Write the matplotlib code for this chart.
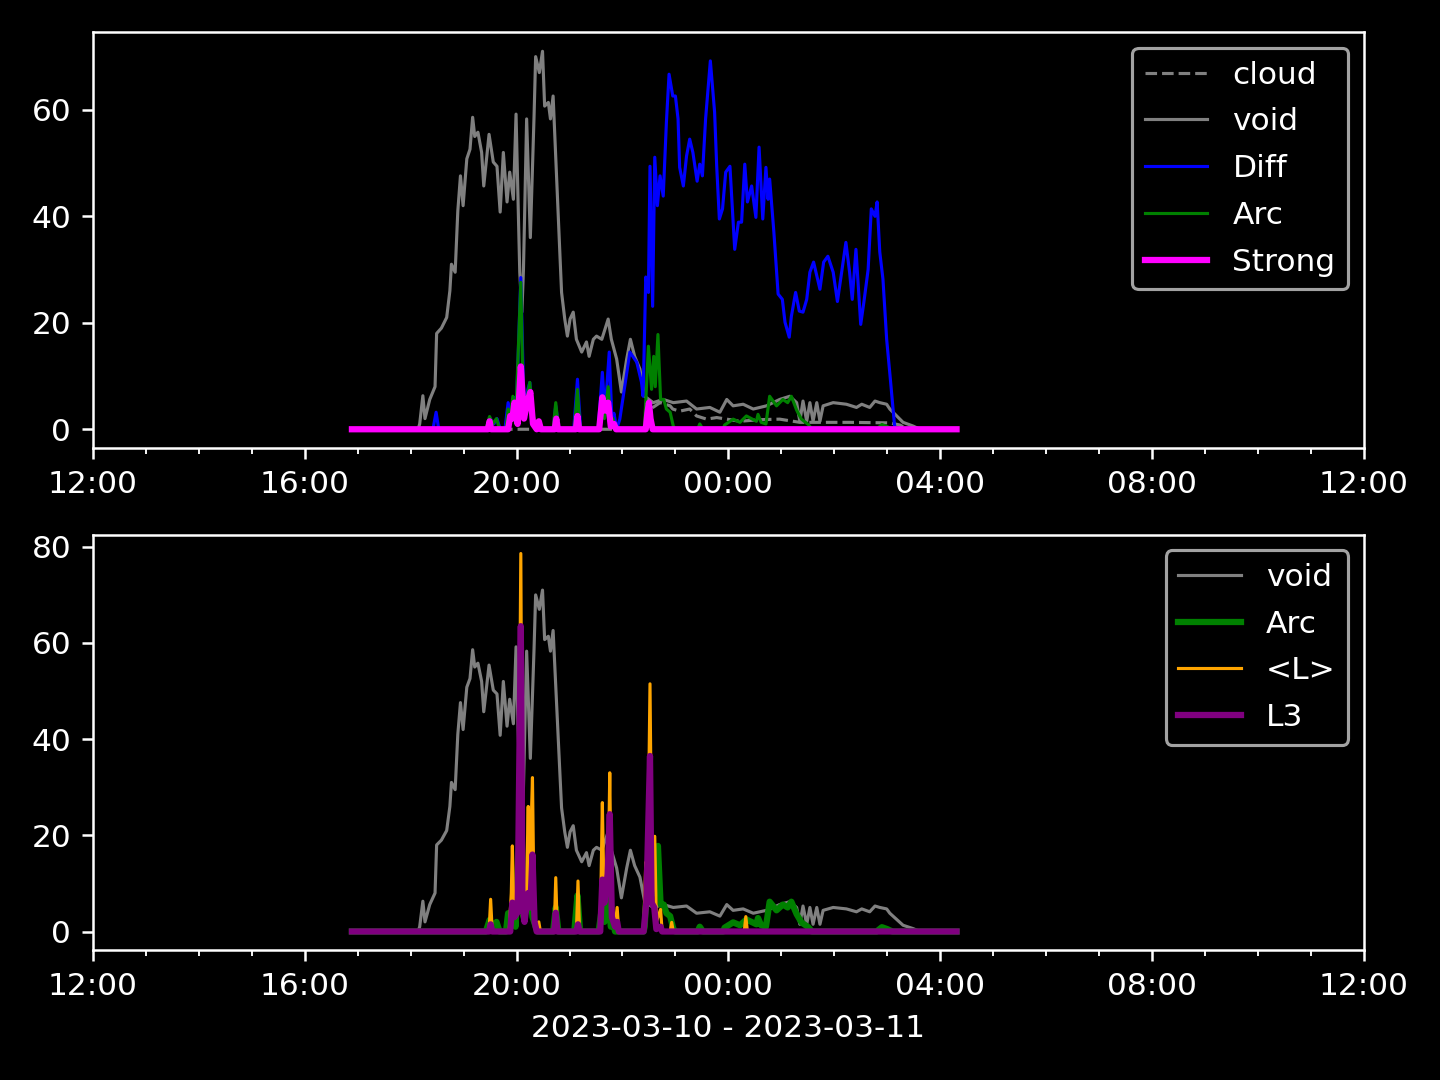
import numpy as np
import pandas as pd
import matplotlib
matplotlib.use("Agg")
from matplotlib import pyplot as plt
import matplotlib.dates as mdates

# times are hours after 2023-03-10 00:00 (values > 24 are on 2023-03-11)
void_t = [16.89, 18.14, 18.17, 18.23, 18.27, 18.36, 18.46, 18.49, 18.58, 18.68, 18.74, 18.77,
          18.84, 18.89, 18.94, 18.99, 19.06, 19.12, 19.17, 19.21, 19.27, 19.34, 19.38, 19.48,
          19.56, 19.63, 19.69, 19.75, 19.82, 19.87, 19.94, 19.99, 20.03, 20.06, 20.10, 20.13,
          20.19, 20.26, 20.33, 20.36, 20.43, 20.49, 20.53, 20.60, 20.64, 20.69, 20.76, 20.82,
          20.85, 20.91, 20.96, 21.01, 21.07, 21.13, 21.23, 21.32, 21.37, 21.45, 21.51, 21.61,
          21.73, 21.79, 21.89, 21.98, 22.08, 22.15, 22.23, 22.33, 22.42, 22.58, 22.77, 22.96,
          23.21, 23.40, 23.65, 23.84, 23.97, 24.09, 24.28, 24.47, 24.72, 24.97, 25.16, 25.29,
          25.35, 25.41, 25.48, 25.54, 25.60, 25.67, 25.73, 25.79, 25.98, 26.23, 26.42, 26.52,
          26.67, 26.77, 26.86, 26.99, 27.05, 27.18, 27.30, 27.49, 27.62, 28.31]
void_v = [0, 0, 1, 6.3, 2, 5.6, 8, 18, 19, 21, 26, 31,
          29.5, 41, 47.6, 42, 50.8, 52.6, 58.6, 55, 55.8, 52, 45.7, 55.4,
          50.2, 49.4, 40.8, 52, 42.7, 48.3, 43.2, 59.2, 42, 29.5, 22, 30,
          58.3, 36, 58.8, 70, 67, 71.0, 60.7, 61.4, 58.3, 62.6, 46.4, 32.5,
          25.7, 20.7, 17.5, 20.7, 22, 16.9, 14.5, 16.4, 13.7, 16.9, 17.5, 16.9,
          20.7, 16.9, 13.2, 7, 13.2, 16.9, 13.7, 11.3, 6.2, 5, 5.6, 5,
          5.3, 3.8, 4.1, 3.2, 5.6, 4.4, 4.7, 3.8, 4.4, 5.6, 6.2, 5,
          1.5, 5.3, 1.5, 5, 1.5, 5, 1.5, 4.4, 5, 4.7, 4.1, 4.7,
          4.1, 5.3, 5, 4.7, 3.8, 2.5, 1.3, 0.6, 0, 0]

cloud_t = [16.89, 22.40, 22.45, 22.56, 22.71, 22.90, 22.95, 23.08, 23.27, 23.40, 23.59, 23.78,
           24.22, 24.59, 24.97, 25.35, 26.29, 27.05, 27.24, 27.39, 28.31]
cloud_v = [0, 0, 2, 4, 5, 4.4, 3.8, 3.4, 3.8, 2.5, 1.9, 2.2,
           1.5, 1.8, 1.9, 1.3, 1.3, 1.2, 0.8, 0, 0]

diff_t = [16.89, 18.42, 18.48, 18.53, 19.42, 19.50, 19.57, 19.63, 19.69, 19.78, 19.84, 19.89,
          19.95, 19.99, 20.08, 20.14, 20.20, 20.25, 20.31, 20.36, 20.44, 20.69, 20.74, 20.80,
          21.08, 21.15, 21.21, 21.54, 21.62, 21.67, 21.75, 21.80, 21.84, 21.89, 21.95, 22.14,
          22.27, 22.36, 22.39, 22.44, 22.49, 22.52, 22.57, 22.61, 22.66, 22.71, 22.77, 22.83,
          22.88, 22.95, 23.00, 23.05, 23.08, 23.15, 23.21, 23.27, 23.33, 23.41, 23.46, 23.51,
          23.57, 23.66, 23.74, 23.78, 23.83, 23.89, 23.95, 24.03, 24.12, 24.19, 24.25, 24.31,
          24.36, 24.44, 24.52, 24.58, 24.65, 24.71, 24.75, 24.78, 24.86, 24.94, 25.02, 25.07,
          25.15, 25.19, 25.27, 25.34, 25.41, 25.48, 25.54, 25.61, 25.73, 25.80, 25.88, 25.98,
          26.06, 26.14, 26.22, 26.29, 26.34, 26.41, 26.50, 26.56, 26.64, 26.70, 26.77, 26.81,
          26.86, 26.92, 26.99, 27.06, 27.14, 27.16, 28.31]
diff_v = [0, 0, 3.2, 0, 0, 2, 1, 2, 0, 0, 5, 3,
          6, 2, 28.5, 4, 7, 8.8, 2, 1, 0, 0, 4.4, 0,
          0, 9.4, 0, 0, 10.7, 3, 14.5, 2, 3, 0, 1.9, 14.5,
          12.6, 8.8, 6.2, 28.6, 25.7, 49.4, 23.1, 51.1, 42, 47.6, 43.8, 57.7,
          66.7, 62.6, 62.6, 58.3, 49.2, 45.7, 51.3, 54.5, 52, 46.6, 49.8, 47.6,
          58.3, 69.2, 59.6, 49.4, 39.5, 41.4, 48.3, 49.4, 33.8, 38.9, 38.9, 49.8,
          42.7, 45.7, 39.8, 53, 39.5, 49.2, 43.2, 47, 37, 25.4, 24.4, 20.1,
          17.3, 21.2, 25.7, 22.2, 22, 24.4, 29.5, 31.4, 26.3, 31.4, 32.5, 29.5,
          24, 29.5, 35.1, 29.5, 24.4, 33.8, 19.7, 23.9, 30, 41.4, 40, 42.7,
          33.3, 28.2, 16.9, 9.4, 0.6, 0, 0]

arc_t = [16.89, 19.42, 19.49, 19.55, 19.62, 19.68, 19.80, 19.84, 19.88, 19.93, 19.98, 20.08,
         20.13, 20.20, 20.25, 20.30, 20.36, 20.40, 20.69, 20.74, 20.79, 21.09, 21.15, 21.20,
         21.55, 21.62, 21.66, 21.73, 21.78, 21.82, 21.86, 22.40, 22.42, 22.49, 22.55, 22.59,
         22.62, 22.67, 22.72, 22.78, 22.83, 22.90, 22.96, 23.00, 23.42, 23.46, 23.52, 23.90,
         23.93, 24.09, 24.22, 24.34, 24.53, 24.56, 24.62, 24.71, 24.78, 24.91, 25.03, 25.12,
         25.19, 25.29, 25.38, 25.51, 25.58, 26.80, 26.90, 27.00, 27.10, 28.31]
arc_v = [0, 0, 2.4, 1, 2, 0, 0, 3.8, 2, 6.2, 1, 27.6,
         3, 6, 8.8, 3, 1, 0, 0, 5, 0, 0, 7.5, 0,
         0, 5.6, 2, 8, 1, 2, 0, 0, 1, 15.6, 7.5, 13.7,
         8, 17.8, 5.6, 5.6, 3.8, 3.2, 0.6, 0, 0, 1, 0, 0,
         0.8, 1.9, 1.3, 2.5, 1.5, 2.8, 1.3, 1, 6.2, 4.4, 5.6, 5,
         6.2, 3.6, 1.9, 0.9, 0, 0, 0.9, 0.5, 0, 0]

strong_t = [16.89, 19.46, 19.49, 19.52, 19.84, 19.88, 19.92, 19.96, 20.02, 20.08, 20.14, 20.20,
            20.26, 20.31, 20.38, 20.42, 20.46, 20.72, 20.75, 20.78, 21.12, 21.15, 21.18, 21.56,
            21.62, 21.67, 21.73, 21.78, 21.84, 21.88, 22.44, 22.47, 22.50, 22.53, 22.57, 28.31]
strong_v = [0, 0, 1.5, 0, 0, 2.5, 2, 5, 1, 11.8, 2, 5,
            7, 1, 0, 1.5, 0, 0, 2, 0, 0, 2.5, 0, 0,
            6, 3.5, 5, 0.5, 1, 0, 0, 3, 5, 2, 0, 0]

meanl_t = [16.89, 19.48, 19.51, 19.54, 19.86, 19.90, 19.92, 19.95, 19.99, 20.04, 20.08, 20.11,
           20.15, 20.18, 20.22, 20.24, 20.27, 20.30, 20.33, 20.37, 20.42, 20.45, 20.71, 20.74,
           20.77, 21.13, 21.16, 21.19, 21.58, 21.62, 21.65, 21.69, 21.73, 21.76, 21.79, 21.83,
           21.86, 21.90, 21.93, 22.40, 22.44, 22.47, 22.52, 22.56, 22.61, 22.64, 22.72, 22.75,
           22.90, 22.93, 22.96, 24.30, 24.33, 24.36, 28.31]
meanl_v = [0, 0, 6.7, 0, 0, 8, 17.8, 4, 6, 20, 78.6, 12,
           2, 5, 26, 8, 20, 32, 5, 1, 2, 0, 0, 11.2,
           0, 0, 10.5, 0, 0, 26.8, 8, 12, 10, 33, 6, 3,
           1, 5, 0, 0, 14.4, 6, 51.5, 6, 19.8, 2, 4.6, 0,
           0, 1.9, 0, 0, 3.1, 0, 0]

l3_t = [16.89, 19.48, 19.51, 19.54, 19.88, 19.92, 19.96, 20.02, 20.08, 20.11, 20.15, 20.22,
        20.26, 20.30, 20.34, 20.38, 20.71, 20.74, 20.77, 21.13, 21.16, 21.19, 21.58, 21.62,
        21.66, 21.72, 21.76, 21.80, 21.86, 21.90, 21.93, 22.40, 22.45, 22.52, 22.55, 22.60,
        22.64, 22.72, 22.75, 28.31]
l3_v = [0, 0, 1.5, 0, 0, 6, 3, 4, 63.5, 6, 2, 8,
        5, 16, 2, 0, 0, 3.9, 0, 0, 1.5, 0, 0, 10.8,
        6, 12, 24.4, 3, 1, 2, 0, 0, 6, 36.5, 6, 5,
        0.5, 1, 0, 0]

day0 = pd.Timestamp("2023-03-10")


def to_time(hours):
    return day0 + pd.to_timedelta(np.array(hours), unit="h")


plt.style.use("dark_background")
fig, (ax1, ax2) = plt.subplots(2, 1, figsize=(6.4, 4.8), dpi=225)

ax1.plot(to_time(cloud_t), cloud_v, color="gray", linestyle="--", linewidth=1, label="cloud")
ax1.plot(to_time(void_t), void_v, color="gray", linewidth=1, label="void")
ax1.plot(to_time(diff_t), diff_v, color="blue", linewidth=1, label="Diff")
ax1.plot(to_time(arc_t), arc_v, color="green", linewidth=1, label="Arc")
ax1.plot(to_time(strong_t), strong_v, color="magenta", linewidth=2, label="Strong")
ax1.legend(loc="upper right", labelspacing=0.57)

ax2.plot(to_time(void_t), void_v, color="gray", linewidth=1, label="void")
ax2.plot(to_time(arc_t), arc_v, color="green", linewidth=2, label="Arc")
ax2.plot(to_time(meanl_t), meanl_v, color="orange", linewidth=1, label="<L>")
ax2.plot(to_time(l3_t), l3_v, color="purple", linewidth=2, label="L3")
ax2.legend(loc="upper right", labelspacing=0.57)
ax2.set_xlabel("2023-03-10 - 2023-03-11")

for ax in (ax1, ax2):
    ax.set_xlim(pd.Timestamp("2023-03-10 12:00"), pd.Timestamp("2023-03-11 12:00"))
    ax.xaxis.set_major_locator(mdates.HourLocator(byhour=range(0, 24, 4)))
    ax.xaxis.set_minor_locator(mdates.HourLocator())
    ax.xaxis.set_major_formatter(mdates.DateFormatter("%H:%M"))

plt.subplots_adjust(left=0.0646, right=0.947, top=0.970, bottom=0.120, hspace=0.208)
plt.savefig("out.png")
